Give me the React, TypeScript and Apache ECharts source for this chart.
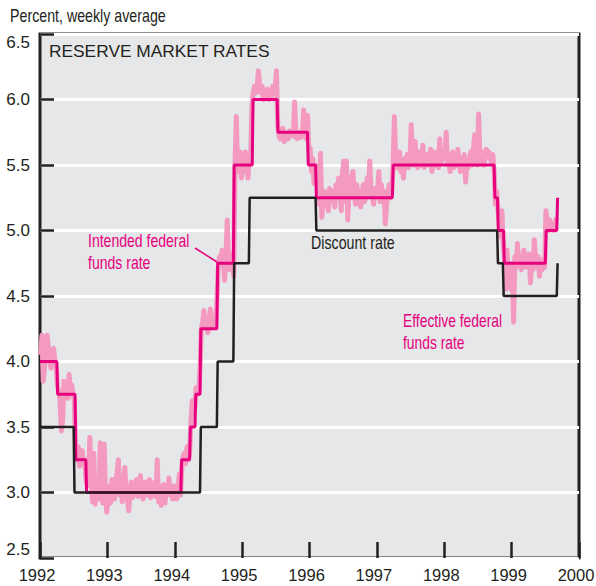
import React, { useEffect, useRef } from "react";
import * as echarts from "echarts";

// ---- Data ----
const xTickYears = [1992, 1993, 1994, 1995, 1996, 1997, 1998, 1999, 2000];
const yTicks = [2.5, 3.0, 3.5, 4.0, 4.5, 5.0, 5.5, 6.0, 6.5];

// Effective federal funds rate, weekly averages, one array per year
const eff1992 = [
  4.05, 4.2, 3.85, 3.95, 4.15, 4.2, 4.1, 4.0, 3.95, 4.05, 4.1, 4.0, 3.95,
  3.8, 3.78, 3.7, 3.47, 3.55, 3.85, 3.8, 3.75, 3.72, 3.9, 3.78, 3.82, 3.75, 3.7,
  3.3, 3.25, 3.35, 3.2, 3.28, 3.32, 3.22, 3.25,
  3.1, 3.05, 3.15, 3.42, 3.1, 2.93, 3.3, 2.91, 3.0, 3.05, 2.95, 3.38, 3.05, 2.92, 3.37, 3.0, 2.85,
];
const eff1993 = [
  2.95, 3.05, 2.92, 3.1, 3.0, 2.95, 3.08, 3.15, 3.25, 2.98, 3.05, 2.93, 3.1,
  3.19, 3.0, 2.95, 2.86, 3.02, 3.08, 2.96, 3.05, 3.0, 3.1, 2.97, 3.05, 3.13,
  3.0, 2.95, 3.05, 3.08, 2.98, 3.02, 3.1, 2.96, 3.05, 3.0, 3.08, 2.97, 3.25,
  2.93, 3.05, 2.9, 3.0, 3.06, 2.92, 3.05, 3.0, 3.11, 2.98, 3.02, 2.95, 3.05,
];
const eff1994 = [
  3.05, 2.95, 3.0, 3.14, 2.98,
  3.2, 3.28, 3.3, 3.22, 3.35, 3.25, 3.3,
  3.55, 3.7, 3.6, 3.65,
  3.8, 3.75, 3.78, 3.95,
  4.25, 4.3, 4.39, 4.28, 4.33, 4.22, 4.3, 4.4, 4.26, 4.35, 4.3, 4.28, 4.45,
  4.7, 4.8, 4.75, 4.85, 4.78, 4.62, 4.8, 5.08, 4.75, 4.7, 4.82, 4.78, 4.65,
  5.5, 5.87, 5.45, 5.55, 5.6, 5.4,
];
const eff1995 = [
  5.55, 5.45, 5.6, 5.5, 5.4, 5.58, 5.52,
  5.95, 6.05, 6.1, 6.05, 6.08, 6.22, 6.12, 6.05, 6.1, 6.0, 6.06, 6.03, 6.08, 6.0,
  6.05, 6.02, 6.1, 6.05, 6.08, 6.22,
  5.8, 5.72, 5.7, 5.75, 5.78, 5.68, 5.74, 5.72, 5.7, 5.76, 5.73, 5.75, 5.72,
  5.98, 5.74, 5.7, 5.72, 5.75, 5.71, 5.73, 5.92, 5.78, 5.7, 5.88,
  5.6,
];
const eff1996 = [
  5.63, 5.45, 5.55, 5.36, 5.5, 5.4,
  5.3, 5.2, 5.59, 5.1, 5.25, 5.3, 5.2, 5.28, 5.15, 5.32, 5.25, 5.22, 5.3, 5.18,
  5.35, 5.25, 5.4, 5.3, 5.15, 5.45, 5.53, 5.22, 5.53, 5.08, 5.3, 5.25, 5.4,
  5.45, 5.28, 5.2, 5.35, 5.25, 5.3, 5.18, 5.28, 5.35, 5.22, 5.3, 5.4, 5.28,
  5.53, 5.3, 5.25, 5.2, 5.32, 5.28,
];
const eff1997 = [
  5.3, 5.45, 5.22, 5.35, 5.25, 5.3, 5.05, 5.2, 5.28, 5.35, 5.25, 5.3,
  5.5, 5.87, 5.55, 5.48, 5.52, 5.6, 5.45, 5.5, 5.4, 5.55, 5.5, 5.58, 5.48, 5.52,
  5.81, 5.55, 5.5, 5.68, 5.52, 5.48, 5.6, 5.5, 5.55, 5.65, 5.48, 5.52, 5.58, 5.5,
  5.55, 5.62, 5.45, 5.52, 5.6, 5.5, 5.55, 5.48, 5.7, 5.52, 5.55, 5.6,
];
const eff1998 = [
  5.55, 5.75, 5.5, 5.58, 5.45, 5.52, 5.6, 5.48, 5.55, 5.5, 5.62, 5.52, 5.45,
  5.55, 5.5, 5.58, 5.37, 5.52, 5.48, 5.55, 5.6, 5.5, 5.62, 5.73, 5.55, 5.5,
  5.89, 5.58, 5.52, 5.6, 5.5, 5.55, 5.62, 5.58, 5.6, 5.55, 5.52, 5.58, 5.45,
  5.2, 5.3, 5.15,
  5.05, 4.95, 5.15, 4.9,
  4.8, 4.55, 4.85, 4.65, 4.75, 4.55,
];
const eff1999 = [
  4.7, 4.3, 4.8, 4.72, 4.9, 4.75, 4.8, 4.7, 4.78, 4.85, 4.72, 4.8, 4.75,
  4.82, 4.6, 4.75, 4.7, 4.93, 4.78, 4.72, 4.8, 4.65, 4.75, 4.7, 4.78, 4.72,
  5.15, 5.05, 5.0, 5.08, 5.02, 5.05, 5.0, 5.05, 5.1,
];
const effectiveByYear: [number, number[]][] = [
  [1992, eff1992], [1993, eff1993], [1994, eff1994], [1995, eff1995],
  [1996, eff1996], [1997, eff1997], [1998, eff1998], [1999, eff1999],
];

// Intended federal funds rate: dates (decimal years) when a level starts, and the level
const intendedDates = [
  1992.0, 1992.25, 1992.52, 1992.68, 1994.09, 1994.22, 1994.3, 1994.375, 1994.625,
  1994.87, 1995.15, 1995.52, 1995.97, 1996.09, 1997.23, 1998.74, 1998.79, 1998.88,
  1999.5, 1999.67,
];
const intendedRates = [
  4.0, 3.75, 3.25, 3.0, 3.25, 3.5, 3.75, 4.25, 4.75,
  5.5, 6.0, 5.75, 5.5, 5.25, 5.5, 5.25, 5.0, 4.75,
  5.0, 5.25,
];

// Discount rate
const discountDates = [
  1992.0, 1992.5, 1994.375, 1994.625, 1994.87, 1995.1, 1996.09, 1998.785, 1998.87, 1999.67,
];
const discountRates = [3.5, 3.0, 3.5, 4.0, 4.75, 5.25, 5.0, 4.75, 4.5, 4.75];

// ---- Builders ----
function stepPoints(dates: number[], rates: number[]): [number, number][] {
  const pts: [number, number][] = [];
  const slant = 0.012;
  for (let i = 0; i < dates.length; i++) {
    const start = i === 0 ? dates[i] : dates[i] + slant;
    pts.push([start, rates[i]]);
    if (i < dates.length - 1) pts.push([dates[i + 1], rates[i]]);
  }
  return pts;
}

function effectivePoints(): [number, number][] {
  const pts: [number, number][] = [];
  effectiveByYear.forEach(([yr, vals]) => {
    vals.forEach((v, i) => pts.push([yr + (i + 0.5) / 52, v]));
  });
  return pts;
}

const FONT = "'Liberation Sans', Arial, Helvetica, sans-serif";
const INK = "#231f20";
const MAGENTA = "#e6007e";
const LIGHT_PINK = "#f49ac1";

function label(text: string, x: number, y: number, color: string, sx: number, size = 18) {
  return {
    type: "text",
    x,
    y,
    scaleX: sx,
    z: 10,
    style: {
      text,
      x: 0,
      y: 0,
      fill: color,
      font: `${size}px ${FONT}`,
      align: "left",
      verticalAlign: "middle",
    },
  };
}

export default function App() {
  const ref = useRef<HTMLDivElement>(null);

  useEffect(() => {
    if (!ref.current) return;
    const chart = echarts.init(ref.current, undefined, { renderer: "svg" });
    chart.setOption({
      animation: false,
      backgroundColor: "#ffffff",
      grid: {
        left: 40,
        top: 34,
        width: 539,
        height: 524,
        show: true,
        backgroundColor: "#e6e7e8",
        borderColor: INK,
        borderWidth: 3,
        containLabel: false,
        outerBoundsMode: "none",
      },
      xAxis: {
        type: "value",
        min: xTickYears[0],
        max: xTickYears[xTickYears.length - 1],
        interval: 1,
        axisLine: { show: false },
        axisTick: { show: true, inside: true, length: 16, lineStyle: { color: INK, width: 2.5 } },
        splitLine: { show: false },
        axisLabel: {
          color: INK,
          fontFamily: FONT,
          fontSize: 16.5,
          margin: 8,
          padding: [0, 6, 0, 0],
          formatter: (v: number) => (xTickYears.includes(v) ? String(v) : ""),
        },
      },
      yAxis: {
        type: "value",
        min: yTicks[0],
        max: yTicks[yTicks.length - 1],
        interval: 0.5,
        axisLine: { show: false },
        axisTick: { show: true, inside: true, length: 14, lineStyle: { color: INK, width: 2.5 } },
        splitLine: { show: true, lineStyle: { color: "#ffffff", width: 3 } },
        axisLabel: {
          color: INK,
          fontFamily: FONT,
          fontSize: 17,
          margin: 10,
          verticalAlignMaxLabel: "top",
          verticalAlignMinLabel: "bottom",
          formatter: (v: number) => v.toFixed(1),
        },
      },
      series: [
        {
          name: "Effective federal funds rate",
          type: "line",
          data: effectivePoints(),
          showSymbol: false,
          symbol: "none",
          lineStyle: { color: LIGHT_PINK, width: 5, join: "round" },
          z: 2,
        },
        {
          name: "Intended federal funds rate",
          type: "line",
          data: stepPoints(intendedDates, intendedRates),
          showSymbol: false,
          symbol: "none",
          lineStyle: { color: MAGENTA, width: 3 },
          z: 3,
        },
        {
          name: "Discount rate",
          type: "line",
          data: stepPoints(discountDates, discountRates),
          showSymbol: false,
          symbol: "none",
          lineStyle: { color: INK, width: 2.5 },
          z: 4,
        },
      ],
      graphic: [
        label("Percent, weekly average", 10, 15.5, INK, 0.79),
        label("RESERVE MARKET RATES", 49, 51, INK, 1.02, 17),
        label("Intended federal", 88, 240, MAGENTA, 0.78),
        label("funds rate", 88, 262, MAGENTA, 0.78),
        {
          type: "line",
          shape: { x1: 195, y1: 248, x2: 217, y2: 262 },
          style: { stroke: MAGENTA, lineWidth: 1.5 },
          z: 10,
        },
        label("Discount rate", 311, 242.5, INK, 0.79),
        label("Effective federal", 403, 320, MAGENTA, 0.77),
        label("funds rate", 403, 342, MAGENTA, 0.77),
      ],
    });
    return () => chart.dispose();
  }, []);

  return (
    <div
      ref={ref}
      style={{ position: "fixed", left: 0, top: 0, width: 596, height: 586 }}
    />
  );
}
